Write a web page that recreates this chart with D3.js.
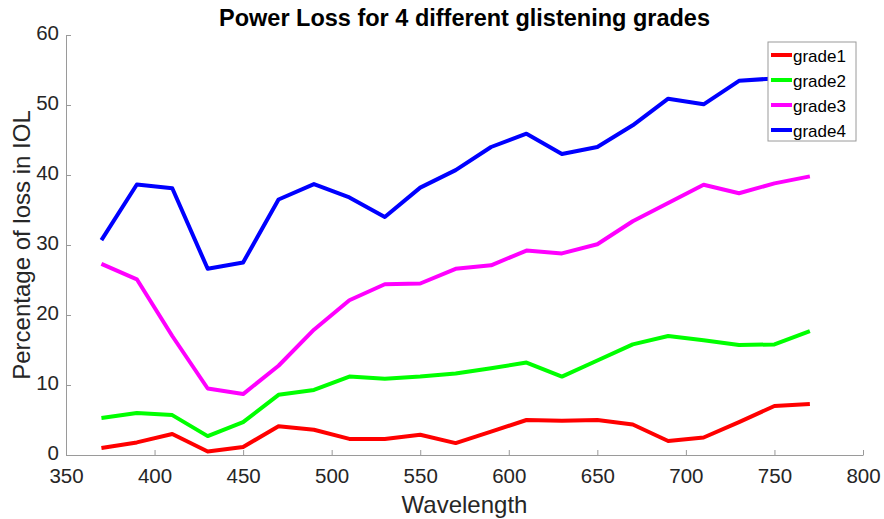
<!DOCTYPE html>
<html lang="en">
<head>
<meta charset="UTF-8">
<title>Power Loss for 4 different glistening grades</title>
<script src="https://d3js.org/d3.v7.min.js"></script>
<style>
  html, body { margin: 0; padding: 0; overflow: hidden; background: #fff; font-family: "Liberation Sans", Arial, sans-serif; }
  svg { display: block; }
  .axis path, .axis line { stroke: #9a9a9a; }
  .axis text { fill: #262626; font-size: 20.5px; font-family: "Liberation Sans", Arial, sans-serif; }
</style>
</head>
<body>
<div id="chart"></div>
<script>
const wavelengths = [370, 390, 410, 430, 450, 470, 490, 510, 530, 550, 570, 590, 610, 630, 650, 670, 690, 710, 730, 750, 770];
const grade1 = [1.0, 1.8, 3.0, 0.5, 1.15, 4.1, 3.6, 2.3, 2.3, 2.9, 1.7, 3.35, 5.0, 4.9, 5.0, 4.35, 2.0, 2.5, 4.7, 7.0, 7.3];
const grade2 = [5.3, 6.0, 5.7, 2.7, 4.7, 8.6, 9.3, 11.2, 10.9, 11.2, 11.65, 12.4, 13.2, 11.2, 13.5, 15.8, 17.0, 16.4, 15.7, 15.8, 17.7];
const grade3 = [27.3, 25.1, 17.0, 9.5, 8.7, 12.75, 17.9, 22.1, 24.4, 24.5, 26.6, 27.1, 29.2, 28.8, 30.1, 33.4, 36.0, 38.6, 37.4, 38.8, 39.8];
const grade4 = [30.7, 38.65, 38.1, 26.6, 27.5, 36.5, 38.7, 36.8, 34.0, 38.2, 40.7, 44.0, 45.9, 43.0, 44.0, 47.1, 50.9, 50.1, 53.45, 53.8, 54.3];
const seriesNames = ["grade1", "grade2", "grade3", "grade4"];
const seriesColors = ["#ff0000", "#00ff00", "#ff00ff", "#0000ff"];
const xTicks = [350, 400, 450, 500, 550, 600, 650, 700, 750, 800];
const yTicks = [0, 10, 20, 30, 40, 50, 60];

const width = 884, height = 519;
const margin = { top: 35, right: 21, bottom: 64, left: 66 };
const innerWidth = width - margin.left - margin.right;
const innerHeight = height - margin.top - margin.bottom;

const series = [grade1, grade2, grade3, grade4].map((vals, i) => ({
  name: seriesNames[i],
  color: seriesColors[i],
  values: vals.map((v, j) => ({ x: wavelengths[j], y: v }))
}));

const svg = d3.select("#chart").append("svg")
  .attr("width", width)
  .attr("height", height);

const g = svg.append("g")
  .attr("transform", `translate(${margin.left},${margin.top})`);

const x = d3.scaleLinear().domain([350, 800]).range([0, innerWidth]);
const y = d3.scaleLinear().domain([0, 60]).range([innerHeight, 0]);

// axes, ticks pointing inward like matlab
g.append("g")
  .attr("class", "axis")
  .attr("transform", `translate(0,${innerHeight})`)
  .call(d3.axisBottom(x).tickValues(xTicks).tickSizeInner(-5).tickSizeOuter(0).tickPadding(13))
  .call(s => s.selectAll("text").attr("dy", "0.71em"));

g.append("g")
  .attr("class", "axis")
  .call(d3.axisLeft(y).tickValues(yTicks).tickSizeInner(-5).tickSizeOuter(0).tickPadding(7))
  .call(s => s.selectAll("text").attr("dy", "0.2em"));

const line = d3.line().x(d => x(d.x)).y(d => y(d.y));

g.selectAll(".series")
  .data(series)
  .join("path")
  .attr("class", "series")
  .attr("fill", "none")
  .attr("stroke", d => d.color)
  .attr("stroke-width", 4)
  .attr("stroke-linejoin", "round")
  .attr("d", d => line(d.values));

// title and labels
svg.append("text")
  .attr("x", margin.left + innerWidth / 2)
  .attr("y", 26)
  .attr("text-anchor", "middle")
  .attr("font-size", "23.5px")
  .attr("font-weight", "bold")
  .attr("fill", "#000")
  .text("Power Loss for 4 different glistening grades");

svg.append("text")
  .attr("x", margin.left + innerWidth / 2)
  .attr("y", 513)
  .attr("text-anchor", "middle")
  .attr("font-size", "24px")
  .attr("fill", "#262626")
  .text("Wavelength");

svg.append("text")
  .attr("transform", `translate(30,${margin.top + innerHeight / 2}) rotate(-90)`)
  .attr("text-anchor", "middle")
  .attr("font-size", "24px")
  .attr("fill", "#262626")
  .text("Percentage of loss in IOL");

// legend
const legend = svg.append("g").attr("transform", "translate(768,42)");
legend.append("rect")
  .attr("width", 88)
  .attr("height", 99)
  .attr("fill", "#fff")
  .attr("stroke", "#9a9a9a");

const items = legend.selectAll(".item")
  .data(series)
  .join("g")
  .attr("class", "item")
  .attr("transform", (d, i) => `translate(0,${13 + i * 25})`);

items.append("line")
  .attr("x1", 3).attr("x2", 24)
  .attr("stroke", d => d.color)
  .attr("stroke-width", 4);

items.append("text")
  .attr("x", 25)
  .attr("dy", "0.42em")
  .attr("font-size", "17px")
  .attr("fill", "#000")
  .text(d => d.name);
</script>
</body>
</html>
